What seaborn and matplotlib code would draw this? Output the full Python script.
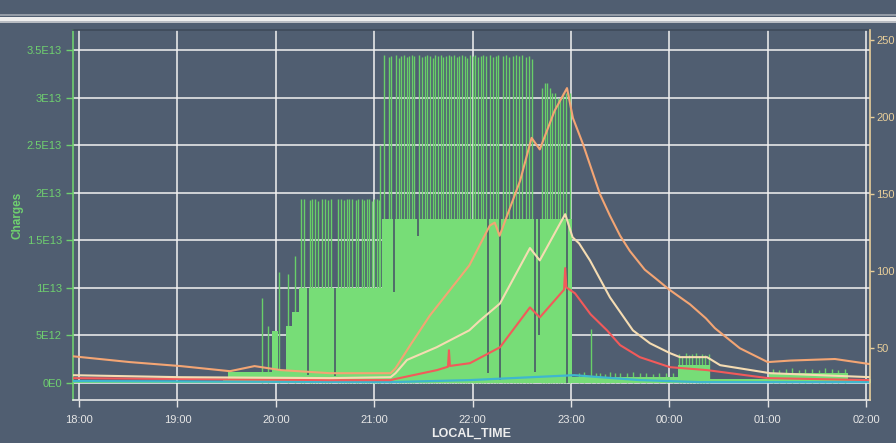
import matplotlib
matplotlib.use("Agg")
import matplotlib.pyplot as plt
import numpy as np
import pandas as pd
import seaborn as sns
from matplotlib.patches import Rectangle

# ---- data (time = minutes after 18:00) ----
time_ticks = [0, 60, 120, 180, 240, 300, 360, 420, 480]
time_labels = ['18:00', '19:00', '20:00', '21:00', '22:00', '23:00', '00:00', '01:00', '02:00']
charge_ticks = [0, 5e12, 1e13, 1.5e13, 2e13, 2.5e13, 3e13, 3.5e13]
charge_labels = ['0E0', '5E12', '1E13', '1.5E13', '2E13', '2.5E13', '3E13', '3.5E13']
right_ticks = [50, 100, 150, 200, 250]

# Charges, base level (units of 1E13), step-wise
level_t = [-4, 88, 91, 117.5, 121.5, 126, 130, 134, 184.5, 300.5, 365, 385, 421, 469, 483]
level_v = [0.005, 0.03, 0.12, 0.55, 0.14, 0.6, 0.75, 1.0, 1.72, 0.06, 0.19, 0.04, 0.1, 0.04, 0.04]

# Charges, spikes
spike_t = [111.4, 115.4, 122.0, 127.5, 131.5,
           135.4, 137.4, 140.9, 142.3, 144.0, 146.0, 148.0, 149.7, 151.7, 153.7,
           158.1, 159.8, 161.4, 163.2, 164.6, 166.7, 168.7, 170.3, 172.4, 174.0,
           175.4, 176.8, 178.5, 180.1, 181.5, 183.0, 183.8,
           186.0, 188.9, 190.5, 193.4, 195.0, 196.6, 198.2, 199.9, 201.5, 203.1,
           204.5, 207.5, 209.1, 210.8, 212.4, 214.0, 215.7, 217.3, 218.9, 220.5,
           222.2, 223.8, 225.4, 227.1, 228.7, 230.3, 232.0, 233.6, 235.2, 236.8,
           238.5, 240.1, 241.7, 243.4, 244.9, 246.4, 248.2, 250.4, 252.4, 254.4,
           255.8, 258.4, 260.4, 262.4, 264.4, 266.4, 268.4, 270.4, 272.4, 274.4, 276.0,
           282.3, 283.9, 285.5, 287.1, 288.7, 290.3, 291.9, 293.5, 295.1, 296.7, 299.5,
           305, 308, 312.2, 315, 318, 321, 324, 327, 330, 334, 338, 342, 346, 350, 354, 358, 362,
           366, 368, 370, 372, 374, 376, 378, 380, 382, 384,
           423, 427, 431, 435, 439, 443, 447, 451, 455, 459, 463, 467]
spike_v = [0.89, 0.6, 1.17, 1.15, 1.33,
           1.93, 1.93, 1.92, 1.93, 1.93, 1.91, 1.93, 1.93, 1.92, 1.93,
           1.93, 1.93, 1.92, 1.93, 1.93, 1.93, 1.92, 1.93, 1.93, 1.92,
           1.93, 1.93, 1.91, 1.93, 1.93, 1.92, 2.5,
           3.45, 3.43, 3.44, 3.45, 3.42, 3.44, 3.45, 3.43, 3.44, 3.45,
           3.44, 3.45, 3.43, 3.44, 3.45, 3.44, 3.42, 3.45, 3.44, 3.45,
           3.43, 3.44, 3.45, 3.44, 3.45, 3.43, 3.44, 3.45, 3.44, 3.42,
           3.45, 3.44, 3.45, 3.43, 3.44, 3.45, 3.44, 3.45, 3.43, 3.44,
           3.45, 3.44, 3.45, 3.43, 3.44, 3.45, 3.44, 3.45, 3.43, 3.44, 3.4,
           3.1, 3.15, 3.15, 3.1, 3.05, 3.05, 3.0, 3.0, 3.05, 3.05, 3.05,
           0.1, 0.12, 0.57, 0.1, 0.11, 0.09, 0.12, 0.1, 0.11, 0.1, 0.12, 0.1, 0.11, 0.09, 0.1, 0.11, 0.1,
           0.3, 0.28, 0.31, 0.29, 0.3, 0.31, 0.28, 0.3, 0.29, 0.3,
           0.15, 0.14, 0.15, 0.16, 0.14, 0.15, 0.15, 0.14, 0.16, 0.15, 0.14, 0.15]

# Charges, dropouts
gap_t = [139.4, 156.1, 192.0, 206.7, 249.4, 256.7, 278.1, 280.5, 297.6]
gap_low = [0.08, 0.07, 0.96, 1.55, 0.1, 0.03, 0.12, 0.5, 0.0]
gap_high = [1.0, 1.0, 1.72, 1.72, 1.72, 1.72, 1.72, 1.72, 1.72]

orange_t = [-4, 31, 62, 92, 107, 123, 153, 190, 193, 202, 214, 226, 238, 250.5, 253.5,
            256.5, 269, 276, 281, 290, 297.6, 301.2, 307.3, 317.7, 323.8, 330, 336,
            345, 352, 360, 372.6, 382.3, 387.8, 403, 420, 434, 461, 483]
orange_v = [44.8, 41, 38.4, 35.1, 38.4, 35.8, 33.8, 33.8, 37, 52, 71.3, 87.5, 103.7, 129.6, 131.5,
            123, 158.7, 186.5, 179, 204, 218.8, 199.4, 182.6, 150, 136, 123, 113,
            101, 95, 88, 78.5, 69.4, 63, 50, 41, 42, 43, 39.6]

cream_t = [-4, 62, 153, 190, 193, 200, 218, 238, 244.5, 256.7, 275, 281, 296.5, 301, 305,
           311.6, 323.8, 337.8, 348.2, 360.4, 366.5, 383, 391, 421.4, 483]
cream_v = [32.5, 31.2, 30.6, 31.2, 33.8, 42.4, 50.6, 61.6, 68, 79, 115, 107, 137, 122, 118,
           107, 83, 61.6, 53.2, 46.8, 44.2, 44.2, 39, 33.8, 31.2]

red_t = [-4, 153, 190, 192.7, 218.3, 225.0, 225.6, 226.2, 238.4, 256.7, 275, 281, 295.8, 296.5,
         297.2, 302.5, 312, 322, 330, 342, 360.4, 383, 420, 483]
red_v = [30.6, 29.3, 29.3, 30, 35.8, 38, 48.7, 38.5, 40.3, 50.6, 76.5, 70, 88, 102,
         89.5, 85.6, 72, 61.6, 52, 44.2, 37.7, 35.8, 30.6, 29.3]

cyan_t = [-4, 190, 238, 302, 317.7, 342, 378.7, 483]
cyan_v = [28.7, 28, 29.3, 32.5, 31.2, 29.3, 28, 28]

# ---- style ----
bg = '#505e71'
green = '#77dd77'
sns.set_style('dark', {'axes.facecolor': bg, 'figure.facecolor': bg})
plt.rcParams['font.family'] = ['Liberation Sans', 'DejaVu Sans']

fig = plt.figure(figsize=(8.96, 4.43), dpi=100)
ax = fig.add_axes([73 / 896, 43 / 443, 797 / 896, 370 / 443])
ax.set_facecolor(bg)

# separator band at top of the window
fig.add_artist(Rectangle((0, 1 - 16 / 443), 1, 2 / 443, transform=fig.transFigure, color='#939ba6', lw=0))
fig.add_artist(Rectangle((0, 1 - 21 / 443), 1, 4 / 443, transform=fig.transFigure, color='#eeeeee', lw=0))
fig.add_artist(Rectangle((0, 1 - 23 / 443), 1, 2 / 443, transform=fig.transFigure, color='#b8bcc2', lw=0))

scale = 1e13
ax.vlines(np.array(spike_t), 0, np.array(spike_v) * scale, color='#68cf68', lw=1.0, zorder=2)
ax.fill_between(level_t, 0, np.array(level_v) * scale, step='post', color=green, lw=0, zorder=3)
ax.vlines(np.array(gap_t), np.array(gap_low) * scale, np.array(gap_high) * scale,
          color='#4a5868', lw=1.2, zorder=4)

ax.set_xlim(-3.7, 482.4)
ax.set_ylim(-1.79e12, 3.71e13)
ax.set_xticks(time_ticks)
ax.set_xticklabels(time_labels)
ax.set_yticks(charge_ticks)
ax.set_yticklabels(charge_labels)
ax.grid(True, color='#f2f2f2', lw=1.1)
ax.set_axisbelow(True)
ax.tick_params(axis='y', colors='#6fd06f', labelsize=8, length=5, width=1, direction='out', left=True, pad=3)
ax.tick_params(axis='x', colors='#e6e6e6', labelsize=8, length=5, width=1, direction='out', bottom=True, pad=6)
ax.spines['left'].set_color('#6fd06f')
ax.spines['bottom'].set_color('#e6e6e6')
ax.spines['top'].set_color('#3e4a5a')
ax.spines['right'].set_visible(False)
for s in ax.spines.values():
    s.set_linewidth(1.2)
ax.set_ylabel('Charges', color='#6fd06f', fontsize=8.5, fontweight='bold', labelpad=2)
ax.set_xlabel('LOCAL_TIME', color='#eeeeee', fontsize=9, fontweight='bold', labelpad=2)

ax2 = ax.twinx()
ax2.set_ylim(16.4, 256.5)
ax2.set_yticks(right_ticks)
sns.lineplot(x=cyan_t, y=cyan_v, ax=ax2, color='#3fb6cf', lw=1.6)
sns.lineplot(x=red_t, y=red_v, ax=ax2, color='#f25a5a', lw=1.5)
sns.lineplot(x=cream_t, y=cream_v, ax=ax2, color='#f5dcb2', lw=1.5)
sns.lineplot(x=orange_t, y=orange_v, ax=ax2, color='#f3a574', lw=1.5)
ax2.set_ylabel('')
ax2.grid(False)
ax2.tick_params(axis='y', colors='#e9cf9a', labelsize=8, length=3, width=1, direction='out', right=True, pad=1.5)
ax2.spines['right'].set_color('#e9cf9a')
ax2.spines['right'].set_linewidth(1.2)
for k in ['left', 'top', 'bottom']:
    ax2.spines[k].set_visible(False)

fig.savefig('out.png', dpi=100, facecolor=bg)
